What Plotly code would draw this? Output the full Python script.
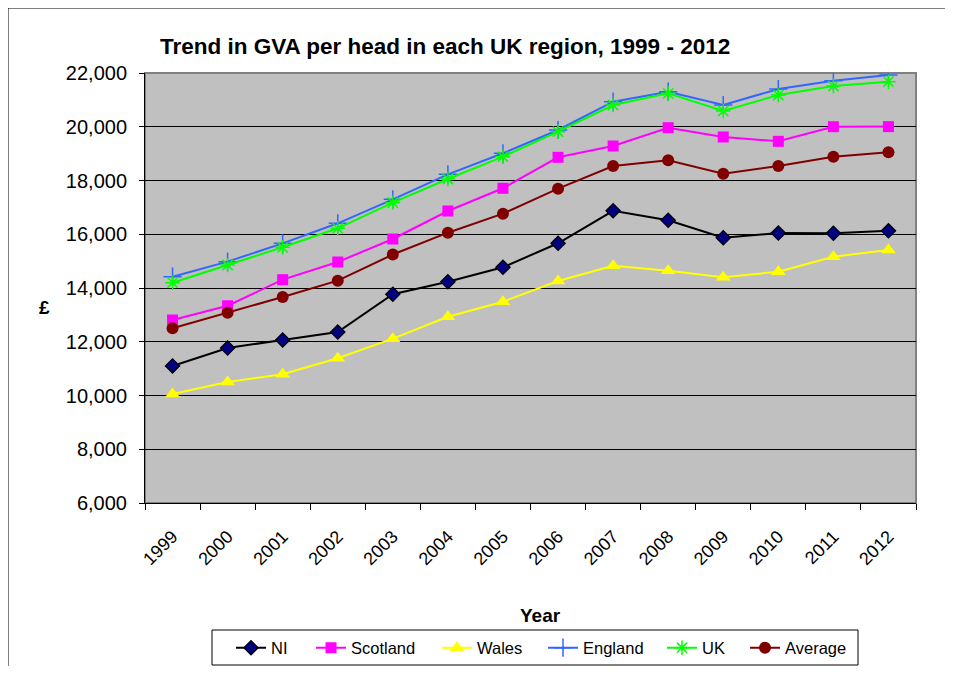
import plotly.graph_objects as go

years = ["1999", "2000", "2001", "2002", "2003", "2004", "2005", "2006",
         "2007", "2008", "2009", "2010", "2011", "2012"]
ni = [11100, 11770, 12065, 12363, 13770, 14230, 14770, 15665, 16870, 16520, 15870, 16045, 16035, 16130]
scotland = [12810, 13340, 14310, 14967, 15823, 16865, 17710, 18863, 19284, 19965, 19619, 19457, 20002, 20005]
wales = [10056, 10502, 10791, 11386, 12116, 12932, 13491, 14260, 14830, 14644, 14398, 14607, 15165, 15414]
england = [14420, 14980, 15662, 16407, 17300, 18230, 19012, 19879, 20933, 21305, 20809, 21405, 21714, 21926]
uk = [14198, 14856, 15514, 16221, 17175, 18056, 18886, 19816, 20809, 21243, 20586, 21181, 21516, 21677]
average = [12500, 13081, 13665, 14273, 15245, 16058, 16766, 17696, 18540, 18751, 18254, 18540, 18886, 19049]
ytick_vals = [6000, 8000, 10000, 12000, 14000, 16000, 18000, 20000, 22000]

# page geometry (browser body has an 8px margin)
OFF = 8
PL, PT, PR, PB = 145, 73, 916, 503
FW, FH = 953 - 2 * OFF, 674 - 2 * OFF
L, T = PL - OFF, PT - OFF
R, B = FW - (PR - OFF), FH - (PB - OFF)


def px(x):
    return (x - PL) / (PR - PL)


def py(y):
    return (PB - y) / (PB - PT)


fig = go.Figure()
legend_starts = [237, 317, 443, 549, 668, 751]
series = [
    ("NI", ni, "#000000", "diamond", "#000080", 11, "#000000", 1.2),
    ("Scotland", scotland, "#FF00FF", "square", "#FF00FF", 11, "#FF00FF", 0),
    ("Wales", wales, "#FFFF00", "triangle-up", "#FFFF00", 13, "#FFFF00", 0),
    ("England", england, "#3366FF", "cross-thin-open", "#3366FF", 13, "#3366FF", 1.5),
    ("UK", uk, "#00FF00", "asterisk-open", "#00FF00", 12, "#00FF00", 1.5),
    ("Average", average, "#800000", "circle", "#800000", 12, "#800000", 0),
]

legends = {}
for i, (name, y, color, symbol, mcolor, size, lc, lw) in enumerate(series):
    lname = "legend" if i == 0 else f"legend{i + 1}"
    fig.add_trace(go.Scatter(
        x=years, y=y, name=name, mode="lines+markers",
        line=dict(color=color, width=2),
        marker=dict(symbol=symbol, color=mcolor, size=size, line=dict(color=lc, width=lw)),
        legend=lname,
    ))
    legends[lname] = dict(
        x=px(legend_starts[i] - 6), xanchor="left", y=py(648), yanchor="middle",
        bgcolor="rgba(0,0,0,0)", borderwidth=0, font=dict(size=16.5),
        itemwidth=30,
    )

fig.update_layout(
    width=FW, height=FH,
    margin=dict(l=L, r=R, t=T, b=B, autoexpand=False),
    paper_bgcolor="white",
    plot_bgcolor="#C0C0C0",
    font=dict(family="Liberation Sans, Arial, sans-serif", size=17, color="black"),
    showlegend=True,
    xaxis=dict(type="category", tickson="boundaries", ticks="outside", ticklen=6,
               tickcolor="black", showgrid=False, showline=True, linecolor="black",
               linewidth=1, tickangle=-45, range=[-0.5, 13.5],
               tickfont=dict(size=18), ticklabelstandoff=15, automargin=False),
    yaxis=dict(range=[6000, 22000], tickvals=ytick_vals, tickformat=",",
               ticks="outside", ticklen=5, tickcolor="black",
               showgrid=True, gridcolor="black", gridwidth=1,
               showline=True, linecolor="black", linewidth=1, zeroline=False,
               tickfont=dict(size=20), ticklabelstandoff=8, automargin=False),
    shapes=[
        dict(type="rect", xref="paper", yref="paper", x0=0, x1=1, y0=0, y1=1,
             line=dict(color="#808080", width=2), layer="below"),
        dict(type="rect", xref="paper", yref="paper", x0=px(OFF), x1=px(950),
             y0=py(690), y1=py(OFF), line=dict(color="black", width=1)),
        dict(type="rect", xref="paper", yref="paper", x0=px(212), x1=px(858),
             y0=py(665), y1=py(630), line=dict(color="black", width=1),
             fillcolor="white", layer="below"),
    ],
    annotations=[
        dict(text="<b>Trend in GVA per head in each UK region, 1999 - 2012</b>",
             xref="paper", yref="paper", x=px(445), y=py(46), showarrow=False,
             xanchor="center", yanchor="middle", font=dict(size=22.5)),
        dict(text="<b>Year</b>", xref="paper", yref="paper", x=px(540), y=py(615),
             showarrow=False, xanchor="center", yanchor="middle", font=dict(size=19)),
        dict(text="<b>£</b>", xref="paper", yref="paper", x=px(45), y=py(307),
             showarrow=False, xanchor="center", yanchor="middle", font=dict(size=19)),
    ],
    **legends,
)

fig.write_html("out.html")
